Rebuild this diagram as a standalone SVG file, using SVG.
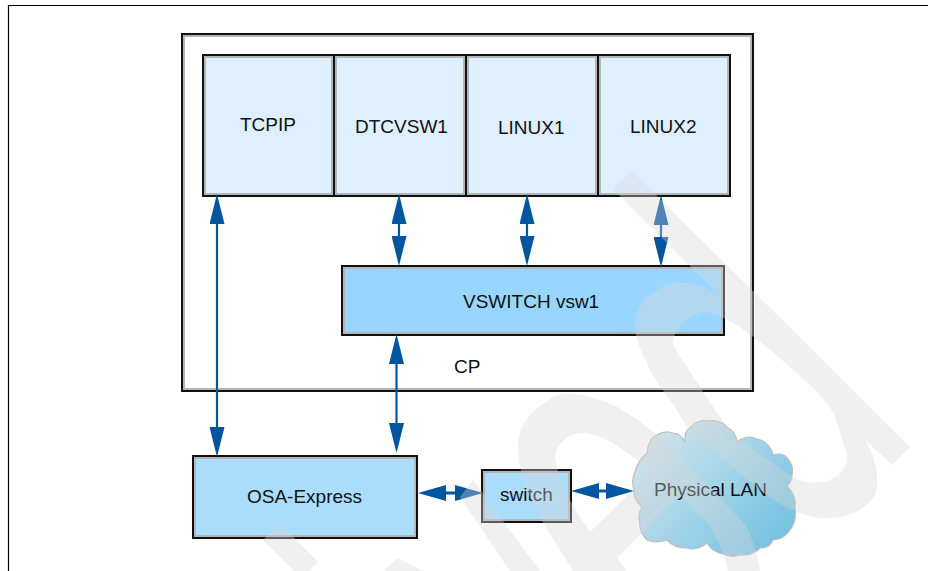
<svg xmlns="http://www.w3.org/2000/svg" width="928" height="571" viewBox="0 0 928 571">
<defs>
<marker id="h" viewBox="0 0 30 15" refX="20" refY="7.5" markerWidth="30" markerHeight="15" markerUnits="userSpaceOnUse" orient="auto-start-reverse"><path d="M0,0L30,7.5L0,15Z" fill="#00559f"/></marker>
<marker id="k" viewBox="0 0 28 16" refX="18" refY="8" markerWidth="28" markerHeight="16" markerUnits="userSpaceOnUse" orient="auto-start-reverse"><path d="M0,0L28,8L0,16Z" fill="#00559f"/></marker>
<linearGradient id="cl" x1="0" y1="0" x2="1" y2="0.75"><stop offset="0" stop-color="#dbe6e8"/><stop offset=".45" stop-color="#aed8ea"/><stop offset="1" stop-color="#74c2e2"/></linearGradient>
</defs>
<style>
text{font-family:"Liberation Sans",Arial,sans-serif;font-size:19px;fill:#111}
.b{stroke:#111;stroke-width:2}
.in{fill:none;stroke:#b5b5b5;stroke-width:2}
.c{stroke:#00559f;stroke-width:2.2;fill:none;marker-start:url(#h);marker-end:url(#h)}
.d{stroke:#00559f;stroke-width:3;fill:none;marker-start:url(#k);marker-end:url(#k)}
</style>
<rect width="928" height="571" fill="#fff"/>
<path d="M8.5,571V5.500H928" fill="none" stroke="#000" stroke-width="1.200"/>
<g id="cp"><rect x="182" y="34" width="571" height="357" fill="#fff" class="b"/><rect x="184" y="36" width="567" height="353" class="in"/><text x="454" y="373">CP</text></g>
<g id="tcpip"><rect x="203" y="55" width="131" height="141" fill="#def0ff" class="b"/><rect x="205" y="57" width="127" height="137" class="in"/><text x="240" y="131">TCPIP</text></g>
<g id="dtcvsw1"><rect x="334" y="55" width="132" height="141" fill="#def0ff" class="b"/><rect x="336" y="57" width="128" height="137" class="in"/><text x="355" y="133">DTCVSW1</text></g>
<g id="linux1"><rect x="466" y="55" width="132" height="141" fill="#def0ff" class="b"/><rect x="468" y="57" width="128" height="137" class="in"/><text x="498" y="134">LINUX1</text></g>
<g id="linux2"><rect x="598" y="55" width="132" height="141" fill="#def0ff" class="b"/><rect x="600" y="57" width="128" height="137" class="in"/><text x="630" y="133">LINUX2</text></g>
<g id="vswitch"><rect x="342" y="266" width="382" height="69" fill="#99d6ff" class="b"/><rect x="344" y="268" width="378" height="65" class="in"/><text x="463" y="308">VSWITCH vsw1</text></g>
<g id="osa"><rect x="193" y="456" width="224" height="82" fill="#aaddff" class="b"/><rect x="195" y="458" width="220" height="78" class="in"/><text x="247" y="503">OSA-Express</text></g>
<g id="switch"><rect x="482" y="470" width="89" height="52" fill="#aaddff" class="b"/><rect x="484" y="472" width="85" height="48" class="in"/><text x="500" y="501">switch</text></g>
<g id="lan"><path d="M685,442Q684,431 690,428Q698,419 707,421Q720,419 727,427Q736,432 737,442Q748,434 757,439Q770,442 773,455Q783,452 787,458Q794,465 792,475Q792,482 787,486Q797,496 795,507Q797,522 790,530Q783,540 773,540Q770,548 760,548Q752,556 740,555Q731,558 723,554Q711,551 707,543Q697,551 687,548Q674,548 667,540Q655,544 647,540Q639,532 640,523Q637,515 642,507Q633,499 634,490Q631,480 635,472Q638,460 647,453Q648,439 657,435Q665,430 673,433Q680,433 685,442Z" fill="url(#cl)" stroke="#bdbdbd" stroke-width="1.200"/><text x="654" y="496">Physical LAN</text></g>
<g id="connectors">
<line class="c" x1="217" y1="204" x2="217" y2="447"/>
<line class="c" x1="396.500" y1="344" x2="396.500" y2="443"/>
<line class="c" x1="399" y1="204" x2="399" y2="256"/>
<line class="c" x1="527" y1="204" x2="527" y2="256"/>
<line class="c" x1="661" y1="205" x2="661" y2="257"/>
<line class="d" x1="428" y1="493" x2="473" y2="493"/>
<line class="d" x1="581" y1="491" x2="624" y2="491"/>
</g>
<g id="watermark" opacity=".37" fill="#d7d7d7">
<path fill-rule="evenodd" d="M632,171L910,447L892,465L865,440C875,455 878,472 877,487C875,502 860,512 845,516C828,520 812,518 800,513C785,507 772,500 760,490L700,440C688,428 682,420 677,410C665,393 653,378 647,363C640,348 634,335 635,323C636,305 650,290 673,283C690,281 705,287 717,293L613,189ZM703,312C688,316 674,328 673,343C676,352 681,358 687,367L713,407C722,420 730,431 740,440L790,475C797,480 802,481 807,482C815,483 824,483 830,480C840,476 847,468 847,458C847,452 845,448 843,443C840,430 836,418 830,407C818,392 805,380 790,367C775,353 758,340 740,327C727,319 715,313 703,312Z"/>
<path fill-rule="evenodd" d="M518,447C518,425 530,410 557,395C568,393 580,394 590,397C605,401 617,406 627,413C642,423 657,434 670,447L727,505L708,523L680,495L617,558L627,571H573C548,530 518,490 518,447ZM555,457C556,448 561,441 567,438C572,434 578,433 583,433C592,434 600,436 607,440C618,446 628,453 637,460L653,470L590,532C580,518 571,503 563,487C559,477 556,467 555,457Z"/>
<path d="M727,505L747,527C753,541 758,556 760,571H728C724,553 717,537 708,523Z"/>
<path d="M473,480L460,497L510,571H540Z"/>
<path d="M280,523L263,540L294,571H309L318,562Z"/>
<path d="M397,558L384,571H423Z"/>
</g>
</svg>
